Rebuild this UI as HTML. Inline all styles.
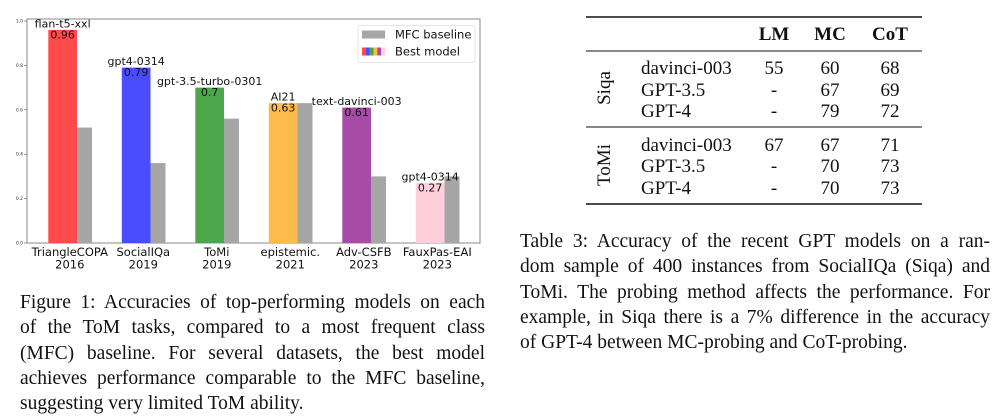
<!DOCTYPE html>
<html><head><meta charset="utf-8"><style>
body{margin:0;width:1008px;height:415px;background:#fff;overflow:hidden;position:relative;font-family:"Liberation Serif",serif;}
.cap{position:absolute;font-size:19.5px;line-height:25.3px;color:#111;}
.cap div{white-space:nowrap;text-align:justify;text-align-last:justify;}
.cap div.last{text-align-last:left;}
</style></head><body>
<svg width="500" height="280" style="position:absolute;left:0;top:0" font-family="DejaVu Sans, sans-serif">
<g id="chart"></g>
</svg>
<script>
const categories=["TriangleCOPA","SocialIQa","ToMi","epistemic.","Adv-CSFB","FauxPas-EAI"];
const years=["2016","2019","2019","2021","2023","2023"];
const bestValues=[0.96,0.79,0.70,0.63,0.61,0.27];
const mfcValues=[0.52,0.36,0.56,0.63,0.30,0.30];
const modelNames=["flan-t5-xxl","gpt4-0314","gpt-3.5-turbo-0301","AI21","text-davinci-003","gpt4-0314"];
const valueLabels=["0.96","0.79","0.7","0.63","0.61","0.27"];
const yTicks=[0,0.2,0.4,0.6,0.8,1.0];
const colors=["#ff4b4b","#4b4bff","#4ca64c","#fdbb4b","#a64ca6","#ffd0da"];
const NS="http://www.w3.org/2000/svg";
const g=document.getElementById('chart');
const y0=243,y1=21;
function yS(v){return y0-(y0-y1)*v;}
function xS(i){return 48.3+73.5*i;}
function mk(t,a,txt){const e=document.createElementNS(NS,t);for(const k in a)e.setAttribute(k,a[k]);if(txt!=null)e.textContent=txt;g.appendChild(e);return e;}
const frame=mk('rect',{x:27,y:19,width:453,height:224,fill:'none',stroke:'#888','stroke-width':1});


yTicks.forEach(t=>{
 const l=mk('line',{x1:24,x2:27,y1:yS(t),y2:yS(t),stroke:'#555','stroke-width':0.6});
 
 
 const tx=mk('text',{x:23,y:yS(t)+1.5,'font-size':4.5,'text-anchor':'end',fill:'#333'},t.toFixed(1));
 
 
});
categories.forEach((c,i)=>{
 const x=xS(i),w=28.7,w2=15;
 const b=mk('rect',{x:x,y:yS(bestValues[i]),width:w,height:y0-yS(bestValues[i]),fill:colors[i]});
 
 
 const m=mk('rect',{x:x+w,y:yS(mfcValues[i]),width:w2,height:y0-yS(mfcValues[i]),fill:'#a6a6a6'});
 
 
 const cx=x+w/2,top=yS(bestValues[i]);
 const n=mk('text',{x:cx,y:top-2.5,'font-size':11,'text-anchor':'middle',fill:'#111'},modelNames[i]);
 
 
 const v=mk('text',{x:cx,y:top+8.5,'font-size':11,'text-anchor':'middle',fill:'#111'},valueLabels[i]);
 
 
 const lx=x+21.5;
 const c1=mk('text',{x:lx,y:256,'font-size':11.5,'text-anchor':'middle',fill:'#111'},c);
 
 
 const c2=mk('text',{x:lx,y:268.5,'font-size':11.5,'text-anchor':'middle',fill:'#111'},years[i]);
 
 
});
const lg=mk('rect',{x:358,y:25.5,width:117,height:37,fill:'#fff',stroke:'#ddd','stroke-width':0.8,rx:2});


const lp=mk('rect',{x:362,y:30.5,width:23,height:8,fill:'#a6a6a6'});


colors.forEach((col,i)=>{
 const s=mk('rect',{x:362+i*23/6,y:47.5,width:23/6+0.2,height:8,fill:col});
 
 
});
const l1=mk('text',{x:395,y:38.5,'font-size':11.5,fill:'#111'},'MFC baseline');


const l2=mk('text',{x:395,y:55.5,'font-size':11.5,fill:'#111'},'Best model');


</script>

<svg width="420" height="215" style="position:absolute;top:0;left:560px" font-family="Liberation Serif, serif" font-size="19">
<line x1="26" x2="362" y1="17" y2="17" stroke="#111" stroke-width="1.5"/>
<line x1="26" x2="362" y1="51" y2="51" stroke="#111" stroke-width="1"/>
<line x1="26" x2="362" y1="127" y2="127" stroke="#111" stroke-width="1"/>
<line x1="26" x2="362" y1="204" y2="204" stroke="#111" stroke-width="1.5"/>
<g font-weight="bold" text-anchor="middle" fill="#111">
<text x="214" y="40">LM</text><text x="270" y="40">MC</text><text x="330" y="40">CoT</text>
</g>
<text transform="translate(50,88) rotate(-90)" text-anchor="middle" fill="#111">Siqa</text>
<text transform="translate(50,165) rotate(-90)" text-anchor="middle" fill="#111">ToMi</text>
<g fill="#111">
<text x="81" y="74">davinci-003</text><text x="81" y="96">GPT-3.5</text><text x="81" y="117">GPT-4</text>
<text x="81" y="151">davinci-003</text><text x="81" y="172">GPT-3.5</text><text x="81" y="194">GPT-4</text>
</g>
<g fill="#111" text-anchor="middle">
<text x="214" y="74">55</text><text x="270" y="74">60</text><text x="330" y="74">68</text>
<text x="214" y="96">-</text><text x="270" y="96">67</text><text x="330" y="96">69</text>
<text x="214" y="117">-</text><text x="270" y="117">79</text><text x="330" y="117">72</text>
<text x="214" y="151">67</text><text x="270" y="151">67</text><text x="330" y="151">71</text>
<text x="214" y="172">-</text><text x="270" y="172">70</text><text x="330" y="172">73</text>
<text x="214" y="194">-</text><text x="270" y="194">70</text><text x="330" y="194">73</text>
</g>
</svg>

<div class="cap" style="left:20px;top:290px;width:465px;">
<div>Figure 1: Accuracies of top-performing models on each</div>
<div>of the ToM tasks, compared to a most frequent class</div>
<div>(MFC) baseline. For several datasets, the best model</div>
<div>achieves performance comparable to the MFC baseline,</div>
<div class="last">suggesting very limited ToM ability.</div>
</div>
<div class="cap" style="left:520px;top:229px;width:470px;">
<div>Table 3: Accuracy of the recent GPT models on a ran-</div>
<div>dom sample of 400 instances from SocialIQa (Siqa) and</div>
<div>ToMi. The probing method affects the performance. For</div>
<div>example, in Siqa there is a 7% difference in the accuracy</div>
<div class="last">of GPT-4 between MC-probing and CoT-probing.</div>
</div>
</body></html>
